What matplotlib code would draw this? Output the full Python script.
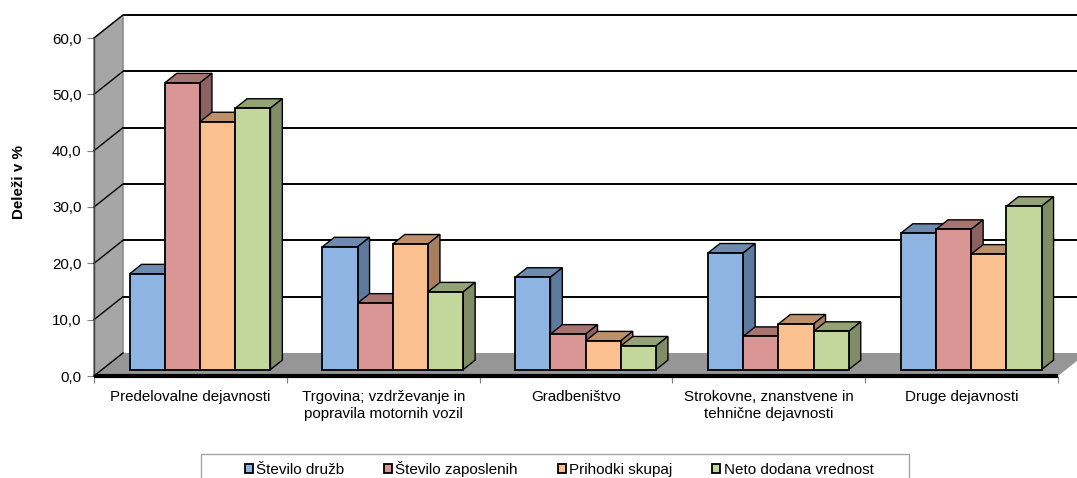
import matplotlib
matplotlib.use('Agg')
import matplotlib.pyplot as plt
from matplotlib.patches import Polygon, Rectangle

plt.rcParams['font.family'] = ['Liberation Sans', 'DejaVu Sans']

categories = ['Predelovalne dejavnosti',
              'Trgovina; vzdrževanje in\npopravila motornih vozil',
              'Gradbeništvo',
              'Strokovne, znanstvene in\ntehnične dejavnosti',
              'Druge dejavnosti']
stevilo_druzb = [17.0, 21.8, 16.4, 20.7, 24.2]
stevilo_zaposlenih = [50.9, 11.8, 6.3, 5.9, 24.9]
prihodki_skupaj = [44.0, 22.3, 5.1, 8.1, 20.5]
neto_dodana = [46.4, 13.8, 4.2, 6.8, 29.0]
y_ticks = [0, 10, 20, 30, 40, 50, 60]

series = [
    ('Število družb', stevilo_druzb, '#8DB4E2', '#6D8BAF', '#5B7A9E'),
    ('Število zaposlenih', stevilo_zaposlenih, '#D99694', '#A87472', '#8C6160'),
    ('Prihodki skupaj', prihodki_skupaj, '#FAC08F', '#BC906B', '#A87F5E'),
    ('Neto dodana vrednost', neto_dodana, '#C3D69B', '#94A375', '#7F8C65'),
]

# depth of the fake 3D box, in data units (x = categories, y = percent)
DX = 29 / 192.8
DY = 23 / 5.63
BAR_W = 35.2 / 192.8
D_FRONT = 0.28   # where the bar front sits inside the depth
D_BAR = 0.41     # depth of a bar


def proj(x, y, d):
    return x + d * DX, y + d * DY


fig = plt.figure(figsize=(10.77, 4.78), dpi=100)
ax = fig.add_axes([94 / 1077, 102 / 478, 964 / 1077, 338 / 478])
ax.set_xlim(0, 5)
ax.set_ylim(0, 60)
ax.patch.set_visible(False)
for s in ax.spines.values():
    s.set_visible(False)

# walls and floor
ax.add_patch(Polygon([proj(0, 0, 0), proj(0, 60, 0), proj(0, 60, 1), proj(0, 0, 1)],
                     fc='#A6A6A6', ec='#808080', lw=1, clip_on=False, zorder=1))
ax.add_patch(Polygon([proj(0, 0, 0), proj(0, 0, 1), proj(5, 0, 1), proj(5, 0, 0)],
                     fc='#969696', ec='none', clip_on=False, zorder=1))
for t in y_ticks:
    if t > 0:
        xs, ys = zip(proj(0, t, 1), proj(5, t, 1))
        ax.plot(xs, ys, color='black', lw=1.4, clip_on=False, zorder=1.5, solid_capstyle='butt')
    xs, ys = zip(proj(0, t, 0), proj(0, t, 1))
    ax.plot(xs, ys, color='black', lw=1, clip_on=False, zorder=2)
ax.plot([0, 0], [0, 60], color='#404040', lw=1, clip_on=False, zorder=2)
ax.plot([0, 5], [0, 0], color='black', lw=3, clip_on=False, zorder=2.5, solid_capstyle='butt')

# bars, left to right so the next front face hides the previous side
z = 3
legend_handles = []
for c in range(len(categories)):
    for i, (name, values, front, top, side) in enumerate(series):
        base = c + 0.5 + (i - 2) * BAR_W + 0.008
        v = values[c]
        d1, d2 = D_FRONT, D_FRONT + D_BAR
        bx, by = proj(base, 0, d1)
        h = ax.bar(bx, v, BAR_W, bottom=by, align='edge', color=front, edgecolor='black',
                   linewidth=1.3, clip_on=False, zorder=z + 0.2)
        if c == 0:
            legend_handles.append(h[0])
        ax.add_patch(Polygon([proj(base, v, d1), proj(base, v, d2),
                              proj(base + BAR_W, v, d2), proj(base + BAR_W, v, d1)],
                             fc=top, ec='black', lw=1, clip_on=False, zorder=z))
        ax.add_patch(Polygon([proj(base + BAR_W, 0, d1), proj(base + BAR_W, v, d1),
                              proj(base + BAR_W, v, d2), proj(base + BAR_W, 0, d2)],
                             fc=side, ec='black', lw=1, clip_on=False, zorder=z + 0.1))
        z += 1

ax.set_yticks(y_ticks)
ax.set_yticklabels(['%d,0' % t for t in y_ticks])
ax.set_xticks(range(6))
ax.set_xticklabels([])
ax.set_xticks([c + 0.5 for c in range(5)], minor=True)
ax.set_xticklabels(categories, minor=True, linespacing=1.25)
ax.tick_params(axis='y', length=5, color='#808080', labelsize=10.9, pad=4, labelcolor='black')
ax.tick_params(axis='x', which='major', length=5, color='#808080')
ax.tick_params(axis='x', which='minor', length=0, labelsize=10.9, pad=10)

fig.text(19 / 1077, 1 - 182 / 478, 'Deleži v %', rotation=90, fontsize=10.9, fontweight='bold',
         ha='center', va='center')

# legend box runs off the bottom of the picture
fig.add_artist(Rectangle((201 / 1077, -0.03), 708 / 1077, (478 - 454) / 478 + 0.03,
                         transform=fig.transFigure, fc='white', ec='#A6A6A6', lw=1))
leg = fig.legend(legend_handles, [s[0] for s in series], ncol=4, frameon=False,
                 loc='center', bbox_to_anchor=(559 / 1077, 1 - 469 / 478), fontsize=11,
                 handlelength=0.55, handleheight=0.55, handletextpad=0.2,
                 columnspacing=2.6, borderpad=0)
leg.set_zorder(10)

fig.savefig('out.png', dpi=100)
